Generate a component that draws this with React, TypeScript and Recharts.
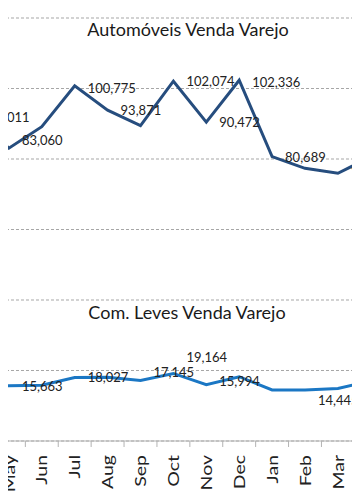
import { CartesianGrid, LabelList, Line, LineChart, XAxis, YAxis } from "recharts";

const months = ["Apr", "May", "Jun", "Jul", "Aug", "Sep", "Oct", "Nov", "Dec", "Jan", "Feb", "Mar", "Apr"];
const autos = [92011, 83060, 89160, 100775, 93871, 89450, 102074, 90472, 102336, 80689, 77360, 75943, 80620];
const leves = [16900, 15663, 15800, 18027, 18070, 17145, 19164, 15994, 18240, 14470, 14445, 14900, 17000];
const yTicks = [0, 20000, 40000, 60000, 80000, 100000, 120000];
// which points carry a value label in the picture
const autosShown = [0, 1, 3, 4, 6, 7, 8, 9, 11];
const levesShown = [1, 3, 5, 6, 7, 10];

const data = months.map((m, i) => ({ month: m, autos: autos[i], leves: leves[i] }));

// line chart puts first/last points on the plot edges
const PLOT_W = 394.8;
const BAND = PLOT_W / (months.length - 1);
const FONT = "Lato, 'Open Sans', sans-serif";

// small vertical nudges seen on some labels
const autosNudge: Record<number, number> = { 1: -8, 3: 2, 8: 1.5 };
const levesNudge: Record<number, number> = { 5: -9, 6: -16, 7: -4, 10: 10 };

function makeLabel(shown: number[], nudge: Record<number, number>) {
  return (props: any) => {
    const { x, y, index, value } = props;
    if (!shown.includes(index)) return null;
    return (
      <text x={x + 13} y={y + (nudge[index] || 0)} dominantBaseline="central"
        fontSize={13} fontFamily={FONT} fill="#222">
        {Number(value).toLocaleString("en-US")}
      </text>
    );
  };
}

const MonthTick = (props: any) => {
  const { x, y, payload } = props;
  return (
    <g>
      <line x1={x - BAND / 2} y1={y} x2={x - BAND / 2} y2={y + 6} stroke="#b3b3b3" />
      <text transform={`translate(${x},${y + 14}) rotate(-90) scale(1.3,1)`} textAnchor="end"
        dominantBaseline="central" fontSize={15} fontFamily={FONT} fill="#222">
        {payload.value}
      </text>
    </g>
  );
};

export default function App() {
  return (
    <div style={{ position: "relative", width: 360, height: 504, overflow: "hidden", margin: -8, background: "#fff" }}>
      <div style={{ position: "absolute", left: -24.5, top: 0 }}>
        <LineChart width={PLOT_W} height={504} data={data} margin={{ top: 18, right: 0, bottom: 0, left: 0 }}
          style={{ overflow: "visible" }}>
          <CartesianGrid vertical={false} stroke="#a6a6a6" strokeDasharray="3 2" />
          <XAxis dataKey="month" height={63} interval={0} tickLine={false} tickSize={0} tickMargin={0}
            axisLine={{ stroke: "#b3b3b3" }} tick={<MonthTick />} />
          <YAxis hide domain={[0, 120000]} ticks={yTicks} />
          <Line type="linear" dataKey="autos" stroke="#264d7e" strokeWidth={3} dot={false} isAnimationActive={false}>
            <LabelList dataKey="autos" content={makeLabel(autosShown, autosNudge)} />
          </Line>
          <Line type="linear" dataKey="leves" stroke="#1b77c4" strokeWidth={3} dot={false} isAnimationActive={false}>
            <LabelList dataKey="leves" content={makeLabel(levesShown, levesNudge)} />
          </Line>
        </LineChart>
      </div>
      <div style={{ position: "absolute", left: 0, width: 376, top: 18, textAlign: "center", fontFamily: FONT, fontSize: 18, lineHeight: "22px", color: "#1a1a1a" }}>
        Automóveis Venda Varejo
      </div>
      <div style={{ position: "absolute", left: 0, width: 374, top: 301, textAlign: "center", fontFamily: FONT, fontSize: 18, lineHeight: "22px", color: "#1a1a1a" }}>
        Com. Leves Venda Varejo
      </div>
    </div>
  );
}
